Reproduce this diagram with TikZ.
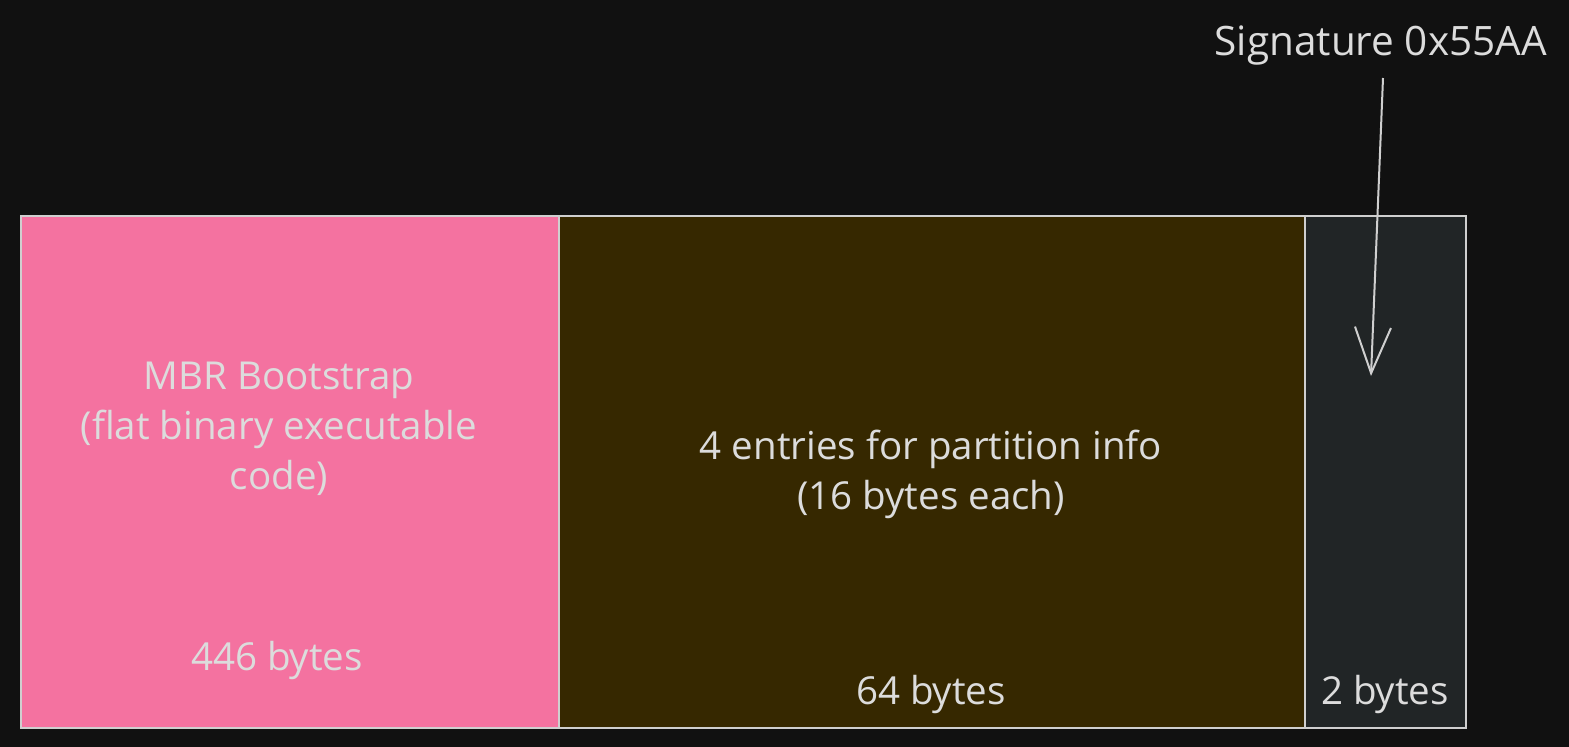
\documentclass[tikz,border=0pt]{standalone}
\usepackage{fontspec}
\setmainfont{Open Sans}
\usetikzlibrary{arrows.meta}
\definecolor{bg}{HTML}{111111}
\definecolor{pinkf}{HTML}{F472A0}
\definecolor{brownf}{HTML}{362800}
\definecolor{grayf}{HTML}{212526}
\definecolor{edge}{HTML}{CFCFCF}
\definecolor{txt}{HTML}{DCDCDC}
\tikzset{
  block/.style={draw=edge, line width=2pt, inner sep=0pt, anchor=north west},
  lbl/.style={text=txt, font=\fontsize{38.5}{50}\selectfont, align=center, inner sep=0pt},
  arr/.style={draw=edge, line width=2pt, -{Straight Barb[length=46pt,width=36pt,line width=2pt]}}
}
\begin{document}
\begin{tikzpicture}[x=1pt,y=-1pt]
\fill[bg] (0,0) rectangle (1569,747);
\useasboundingbox (0,0) rectangle (1569,747);
\node[block, fill=pinkf, minimum width=538pt, minimum height=512pt] (boot) at (20,215) {};
\node[block, fill=brownf, minimum width=746pt, minimum height=512pt] (part) at (558,215) {};
\node[block, fill=grayf, minimum width=161pt, minimum height=512pt] (sig) at (1304,215) {};
\node[lbl] (bootT) at (279,429) {MBR Bootstrap\\(flat binary executable\\code)};
\node[lbl] (bootB) at (277,660) {446 bytes};
\node[lbl] (partT) at (931,474) {4 entries for partition info\\(16 bytes each)};
\node[lbl] (partB) at (931,694) {64 bytes};
\node[lbl] (sigB) at (1385,694) {2 bytes};
\node[lbl, anchor=east, font=\fontsize{40.5}{50}\selectfont] (sigL) at (1547,46) {Signature 0x55AA};
\coordinate (tip) at (1371,376);
\draw[arr] (1383,78) -- (tip);
\end{tikzpicture}
\end{document}
